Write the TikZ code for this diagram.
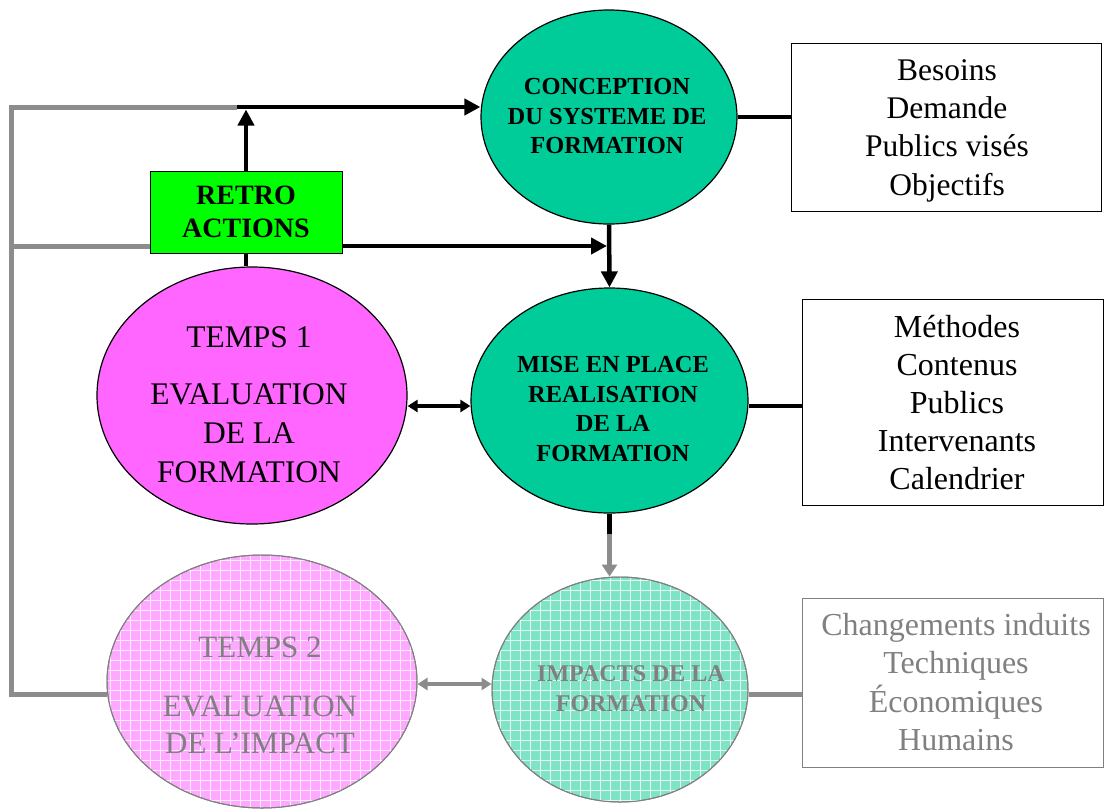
\documentclass[tikz,border=0pt]{standalone}
\usepackage{fontspec}
\setmainfont{Liberation Serif}
\usetikzlibrary{shapes.geometric,arrows.meta}
\definecolor{teal1}{HTML}{00CC99}
\definecolor{pink1}{HTML}{FF66FF}
\definecolor{green1}{HTML}{00FF00}
\definecolor{pinkfade}{HTML}{FFA8FF}
\definecolor{tealfade}{HTML}{7FE3C6}
\definecolor{fadegray}{HTML}{808080}
\definecolor{linegray}{HTML}{8C8C8C}
\begin{document}
\begin{tikzpicture}[x=1pt,y=-1pt,
  ell/.style={ellipse, draw=black, line width=1.2pt, inner sep=0pt},
  fadeell/.style={ellipse, draw=fadegray, line width=1pt, inner sep=0pt},
  boldtxt/.style={font=\fontsize{24.5}{29.5}\selectfont\bfseries, align=center, inner sep=0pt},
  regtxt/.style={font=\fontsize{30.5}{39}\selectfont, align=center, inner sep=0pt},
  boxtxt/.style={font=\fontsize{31.5}{38.3}\selectfont, align=center, inner sep=0pt},
  infobox/.style={rectangle, draw=black, line width=1pt, inner sep=0pt},
  blk/.style={line width=4.5pt, black},
  bigtip/.style={-{Triangle[length=16pt,width=16pt]}},
  dbltip/.style={{Triangle[length=10pt,width=12pt]}-{Triangle[length=10pt,width=12pt]}},
  gry/.style={line width=5pt, linegray},
  grid10/.style={white, line width=0.7pt, step=10pt, opacity=0.8}
]
\useasboundingbox (0,0) rectangle (1105,809);

% ---------- coordinates for the grey loop ----------
\coordinate (c1) at (11,694);
\coordinate (c2) at (11,107);
\coordinate (c3) at (11,246);
\coordinate (gE) at (237,107);
\coordinate (jn) at (246,109.5);
\coordinate (jn2) at (607,246);
\coordinate (md) at (609.5,534);

% ---------- top part ----------
\node[ell, fill=teal1, minimum width=256pt, minimum height=214pt] (conc) at (609,117) {};
\node[boldtxt] (conct) at (607,116.5) {CONCEPTION\\DU SYSTEME DE\\FORMATION};

\node[ell, fill=teal1, minimum width=277pt, minimum height=225pt] (mise) at (609.5,400.5) {};
\node[boldtxt] (miset) at (613,409) {MISE EN PLACE\\REALISATION\\DE LA\\FORMATION};

\node[ell, fill=pink1, minimum width=310pt, minimum height=257pt] (t1) at (252,395.5) {};
\node[regtxt, font=\fontsize{31.5}{39}\selectfont] (t1t) at (249,404.5) {TEMPS 1\\[18pt]EVALUATION\\DE LA\\FORMATION};

\node[rectangle, draw=black, line width=1pt, fill=green1, minimum width=192pt, minimum height=82pt,
      font=\fontsize{28}{33}\selectfont\bfseries, align=center, inner sep=0pt] (retro) at (246,212) {RETRO\\ACTIONS};

\node[infobox, minimum width=310pt, minimum height=168pt] (box1) at (946,127) {};
\node[boxtxt] (box1t) at (947,130.5) {Besoins\\Demande\\Publics visés\\Objectifs};

\node[infobox, minimum width=301pt, minimum height=206pt] (box2) at (952.5,402) {};
\node[boxtxt, font=\fontsize{32}{38.2}\selectfont] (box2t) at (957,402.5) {Méthodes\\Contenus\\Publics\\Intervenants\\Calendrier};

% ---------- bottom (faded) part ----------
\node[fadeell, fill=pinkfade, minimum width=310pt, minimum height=253pt] (t2) at (262,681.5) {};
\begin{scope}
  \clip (t2.center) ellipse (155pt and 126.5pt);
  \draw[grid10] ([shift={(-160pt,-130pt)}]t2.center) grid ([shift={(160pt,130pt)}]t2.center);
\end{scope}
\draw[fadegray, line width=1pt] (t2.center) ellipse (155pt and 126.5pt);
\node[regtxt, text=fadegray, font=\fontsize{31}{37}\selectfont] (t2t) at (260,695) {TEMPS 2\\[22pt]EVALUATION\\DE L’IMPACT};

\node[fadeell, fill=tealfade, minimum width=256pt, minimum height=225pt] (imp) at (620,689.5) {};
\begin{scope}
  \clip (imp.center) ellipse (128pt and 112.5pt);
  \draw[grid10] ([shift={(-130pt,-115pt)}]imp.center) grid ([shift={(130pt,115pt)}]imp.center);
\end{scope}
\draw[fadegray, line width=1pt] (imp.center) ellipse (128pt and 112.5pt);
\node[boldtxt, text=fadegray, font=\fontsize{24}{30}\selectfont\bfseries] (impt) at (631,689) {IMPACTS DE LA\\FORMATION};

\node[rectangle, draw=fadegray, line width=1pt, inner sep=0pt, minimum width=301pt, minimum height=169pt] (box3) at (952.5,682.5) {};
\node[boxtxt, text=fadegray, font=\fontsize{32}{38.3}\selectfont] (box3t) at (956,682) {Changements induits\\Techniques\\Économiques\\Humains};

% ---------- connectors ----------
\draw[gry, line join=miter] ([yshift=-12.5pt]t2.west) -- (c1) -- (c2) -- (gE);
\draw[gry] (c3) -- (retro.west |- c3);
\draw[blk, bigtip] (gE) -- (gE -| conc.west);
\draw[blk, bigtip] (retro.north) -- (jn);
\draw[blk, bigtip] (retro.east |- c3) -- (jn2);
\draw[blk, bigtip] (conc.south) -- (mise.north);
\draw[blk] (retro.south) -- (retro.south |- t1.north);
\draw[line width=3.5pt, dbltip] ([yshift=-10.5pt]t1.east) -- ([yshift=-5.5pt]mise.west);
\draw[blk] (conc.east) -- (conc.east -| box1.west);
\draw[blk] ([yshift=-5.5pt]mise.east) -- ([yshift=-5.5pt]mise.east -| box2.west);
\draw[blk] (mise.south) -- (md);
\draw[gry, -{Triangle[length=12pt,width=15pt]}] (md) -- (md |- imp.north);
\draw[gry, line width=4.5pt, dbltip] ([yshift=-2.5pt]t2.east) -- ([yshift=5.5pt]imp.west);
\draw[gry] ([yshift=-4.5pt]imp.east) -- ([yshift=-4.5pt]imp.east -| box3.west);
\end{tikzpicture}
\end{document}
